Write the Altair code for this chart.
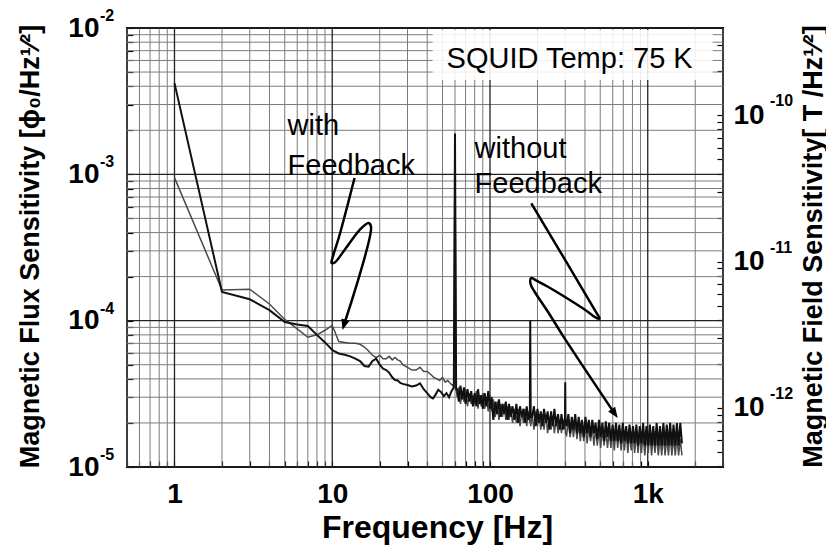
import altair as alt
import pandas as pd

F = "Liberation Sans"

# ---------------- data ----------------
# low-frequency part, "without Feedback" (black)
black_lf_f = [1,2,3,4,5,6,7,8,9,10,11,12,13,14,15,16,17,18,19,20,21,22,23,24,25,26,27,28,
              30,32,34,36,38,40,42,43.5,45,47,49,51,53,55,57,59,60,61]
black_lf_v = [4.2e-3,1.57e-4,1.40e-4,1.18e-4,9.8e-5,9.4e-5,9.2e-5,8.0e-5,7.1e-5,6.3e-5,
              5.97e-5,5.85e-5,5.7e-5,5.5e-5,5.3e-5,4.9e-5,4.85e-5,5.3e-5,5.5e-5,5.0e-5,
              4.7e-5,4.6e-5,4.4e-5,4.1e-5,3.93e-5,3.9e-5,3.75e-5,3.7e-5,
              3.63e-5,3.55e-5,3.6e-5,3.73e-5,3.4e-5,3.2e-5,3.0e-5,2.94e-5,3.1e-5,3.37e-5,
              3.25e-5,3.05e-5,3.2e-5,3.0e-5,3.3e-5,3.5e-5,1.9e-3,3.4e-5]
# low-frequency part, "with Feedback" (grey)
grey_lf_f = [1,2,3,4,5,6,7,8,9,10,11,12,13,14,15,16,17,18,19,20,21,22,23,24,25,26,27,28,
             30,32,34,36,38,40,42,44,46,48,50,52,54,56,58,59,60,61]
grey_lf_v = [9.5e-4,1.62e-4,1.64e-4,1.3e-4,1.02e-4,8.8e-5,7.7e-5,8.0e-5,8.6e-5,9.3e-5,
             7.2e-5,7.1e-5,7.0e-5,7.0e-5,6.9e-5,6.6e-5,6.2e-5,5.8e-5,5.6e-5,5.8e-5,
             5.5e-5,5.5e-5,5.7e-5,5.4e-5,5.6e-5,5.4e-5,5.3e-5,5.0e-5,
             4.8e-5,4.6e-5,4.6e-5,4.8e-5,4.5e-5,4.5e-5,4.3e-5,4.1e-5,4.0e-5,3.9e-5,
             4.1e-5,3.8e-5,3.9e-5,3.73e-5,3.6e-5,3.7e-5,1.5e-3,3.4e-5]

# high-frequency (dense, noisy) part: frequencies [Hz]
hf_f = [62,63.5,65,66.7,68.4,70,72,74,76,78,
        80,82,84,86,88,90,92.5,95,97.5,100,
        102.5,105,108,111,114,117,120,123,126,129,
        132,135,139,143,147,151,155,159,163,167,
        171,175,179,180,181,185,190,195,200,205,210,215,
        220,226,232,238,244,250,256,263,270,277,
        284,291,299,300,301,306,314,322,330,338,347,356,
        365,374,383,393,403,413,423,434,445,456,
        467,479,491,503,516,529,542,556,570,584,
        599,614,629,645,661,678,695,712,730,748,
        767,786,806,826,847,868,890,912,935,958,
        982,1007,1032,1058,1084,1111,1139,1167,1196,1226,
        1257,1288,1320,1353,1387,1422,1457,1494,1531,1569,
        1608,1648]
# values in units of 1e-5 Phi0/sqrt(Hz)
black_hf_v = [3.4,2.8,3.6,2.9,3.5,2.7,3.4,2.8,3.3,2.6,
              3.2,2.6,3.4,2.7,3.1,2.5,3.2,2.6,3.3,2.5,
              3.0,2.1,2.8,2.3,2.9,2.2,2.7,2.3,2.8,2.1,
              2.7,2.2,2.6,2.1,2.7,2.0,2.6,2.2,2.5,2.0,
              2.6,2.1,2.4,10.0,2.2,2.2,2.6,1.9,2.5,2.0,2.4,1.9,
              2.5,2.0,2.4,1.8,2.4,1.9,2.5,1.9,2.3,1.8,
              2.3,1.8,2.2,3.8,2.0,1.9,2.3,1.7,2.2,1.8,2.3,1.7,
              2.2,1.7,2.1,1.6,2.2,1.7,2.1,1.6,2.1,1.7,
              2.0,1.55,2.1,1.6,2.0,1.5,2.05,1.6,2.0,1.5,
              1.95,1.5,2.0,1.5,1.95,1.45,2.0,1.5,1.9,1.45,
              1.95,1.45,1.9,1.45,1.95,1.4,1.9,1.45,2.0,1.4,
              1.9,1.4,1.95,1.4,1.9,1.4,2.0,1.4,1.9,1.4,
              2.0,1.4,1.95,1.4,2.0,1.4,1.95,1.4,2.0,1.4,
              2.0,1.45]
grey_hf_v = [3.0,3.5,2.7,3.3,2.8,3.4,2.6,3.2,2.7,3.1,
             2.7,3.3,2.5,3.1,2.6,3.2,2.5,3.0,2.4,3.1,
             2.4,2.9,2.2,2.8,2.1,2.7,2.2,2.7,2.1,2.6,
             2.1,2.6,2.0,2.5,2.0,2.5,1.9,2.4,2.0,2.5,
             1.9,2.4,2.0,6.5,1.9,2.3,1.8,2.4,1.9,2.3,1.8,2.3,
             1.8,2.3,1.7,2.2,1.8,2.2,1.7,2.2,1.7,2.1,
             1.7,2.1,1.8,3.0,1.7,1.65,2.1,1.6,2.0,1.6,2.0,1.55,
             2.0,1.5,1.95,1.5,1.95,1.45,1.9,1.5,1.9,1.4,
             1.85,1.4,1.85,1.35,1.8,1.4,1.8,1.35,1.8,1.35,
             1.75,1.3,1.8,1.35,1.75,1.3,1.7,1.3,1.75,1.25,
             1.7,1.3,1.7,1.25,1.7,1.25,1.65,1.25,1.7,1.2,
             1.65,1.25,1.7,1.2,1.65,1.25,1.65,1.2,1.6,1.2,
             1.65,1.2,1.6,1.2,1.65,1.2,1.6,1.2,1.6,1.2,
             1.55,1.2]

# grid / tick positions
gx_major = [1, 10, 100, 1000]
gx_minor = [0.5,0.6,0.7,0.8,0.9, 2,3,4,5,6,7,8,9, 20,30,40,50,60,70,80,90,
            200,300,400,500,600,700,800,900, 2000,3000]
gy_major = [1e-5, 1e-4, 1e-3, 1e-2]
gy_minor = [2e-5,3e-5,4e-5,5e-5,6e-5,7e-5,8e-5,9e-5,
            2e-4,3e-4,4e-4,5e-4,6e-4,7e-4,8e-4,9e-4,
            2e-3,3e-3,4e-3,5e-3,6e-3,7e-3,8e-3,9e-3]
ry_ticks = [4e-13,5e-13,6e-13,7e-13,8e-13,9e-13,
            1e-12,2e-12,3e-12,4e-12,5e-12,6e-12,7e-12,8e-12,9e-12,
            1e-11,2e-11,3e-11,4e-11,5e-11,6e-11,7e-11,8e-11,9e-11,
            1e-10,2e-10,3e-10]
left_exp_v = [1e-2, 1e-3, 1e-4, 1e-5]
left_exp_t = ["-2", "-3", "-4", "-5"]
right_exp_v = [1e-10, 1e-11, 1e-12]
right_exp_t = ["-10", "-11", "-12"]

# annotations (data coordinates)
ann_text = ["with", "Feedback", "without", "Feedback", "SQUID Temp: 75 K"]
ann_f = [5.21, 5.21, 79.9, 79.9, 53.1]
ann_v = [1.86e-3, 9.9e-4, 1.29e-3, 7.45e-4, 5.33e-3]
box_f = [43.3, 2580]
box_v = [4.42e-3, 9.7e-3]

arrow1_f = [13.85, 11.13, 10.04, 9.90, 10.34, 11.97, 14.90, 16.99, 17.62, 11.90]
arrow1_v = [9.43e-4, 3.85e-4, 2.68e-4, 2.48e-4, 2.49e-4, 3.04e-4, 4.16e-4, 4.65e-4, 4.36e-4, 9.45e-5]
arrow2_f = [182.8, 474.3, 495.5, 474.3, 398, 297.2, 232.9, 194.6, 182.2, 180.9, 191.8, 232.9, 297.2, 614.1]
arrow2_v = [6.33e-4, 1.127e-4, 1.034e-4, 1.042e-4, 1.191e-4, 1.457e-4, 1.705e-4, 1.895e-4,
            1.955e-4, 1.778e-4, 1.576e-4, 1.150e-4, 7.57e-5, 2.335e-5]
head_f = [11.90, 614.1]
head_v = [9.45e-5, 2.335e-5]
head_angle = [195.5, 146.0]

# ---------------- tables ----------------
black = pd.DataFrame({"f": black_lf_f + hf_f,
                      "v": black_lf_v + [x * 1e-5 for x in black_hf_v]})
grey = pd.DataFrame({"f": grey_lf_f + hf_f,
                     "v": grey_lf_v + [x * 1e-5 for x in grey_hf_v]})
arrows = pd.concat([
    pd.DataFrame({"f": arrow1_f, "v": arrow1_v, "a": "a1", "i": list(range(len(arrow1_f)))}),
    pd.DataFrame({"f": arrow2_f, "v": arrow2_v, "a": "a2", "i": list(range(len(arrow2_f)))}),
])
heads = pd.DataFrame({"f": head_f, "v": head_v, "ang": head_angle})
ann = pd.DataFrame({"f": ann_f, "v": ann_v, "t": ann_text})
box = pd.DataFrame({"f": [box_f[0]], "f2": [box_f[1]], "v": [box_v[0]], "v2": [box_v[1]]})

XS = alt.Scale(type="log", domain=[0.5, 3000], nice=False)
YS = alt.Scale(type="log", domain=[1e-5, 1e-2], nice=False)
YR = alt.Scale(type="log", domain=[3.95e-13, 3.95e-10], nice=False)

dec_expr = "abs(log(datum.value)/LN10 - round(log(datum.value)/LN10)) < 0.001 ? '10' : ''"
x_expr = ("datum.value == 1 ? '1' : datum.value == 10 ? '10' : datum.value == 100 ? '100' : "
          "datum.value == 1000 ? '1k' : ''")

x_axis = alt.Axis(values=sorted(gx_minor + gx_major), labelExpr=x_expr, orient="bottom",
                  offset=-6, tickSize=6, tickColor="black", tickWidth=1.2, domain=False,
                  grid=False, labelOverlap=False, labelFlush=False, labelPadding=13,
                  labelFont=F, labelFontSize=28, labelFontWeight="bold", labelColor="black",
                  title="Frequency [Hz]", titleFont=F, titleFontSize=32, titleFontWeight="bold",
                  titleColor="black", titleX=310, titleY=76, titleAlign="center",
                  titleBaseline="alphabetic")
y_axis = alt.Axis(values=sorted(gy_minor + gy_major), labelExpr=dec_expr, orient="left",
                  offset=-6, tickSize=6, tickColor="black", tickWidth=1.2, domain=False,
                  grid=False, labelOverlap=False, labelFlush=False, labelPadding=28,
                  labelFont=F, labelFontSize=28, labelFontWeight="bold", labelColor="black",
                  labelBaseline="middle", labelAlign="right",
                  title="Magnetic Flux Sensitivity [ϕ₀/Hz¹⁄²]", titleFont=F, titleFontSize=27,
                  titleFontWeight="bold", titleColor="black", titleAngle=270,
                  titleX=-103, titleY=218, titleAlign="center", titleBaseline="middle")
r_axis = alt.Axis(values=ry_ticks, labelExpr=dec_expr, orient="right",
                  offset=-6, tickSize=6, tickColor="black", tickWidth=1.2, domain=False,
                  grid=False, labelOverlap=False, labelFlush=False, labelPadding=10,
                  labelFont=F, labelFontSize=28, labelFontWeight="bold", labelColor="black",
                  labelBaseline="middle", labelAlign="left",
                  title="Magnetic Field Sensitivity[ T /Hz¹⁄²]", titleFont=F, titleFontSize=27,
                  titleFontWeight="bold", titleColor="black", titleAngle=270,
                  titleX=96, titleY=218, titleAlign="center", titleBaseline="middle")


def X(field="f"):
    return alt.X(f"{field}:Q", scale=XS, axis=x_axis)


def Y(field="v"):
    return alt.Y(f"{field}:Q", scale=YS, axis=y_axis)


gxm = alt.Chart(pd.DataFrame({"f": gx_minor})).mark_rule(color="#7c7c7c", strokeWidth=1).encode(x=X())
gxM = alt.Chart(pd.DataFrame({"f": gx_major})).mark_rule(color="#222222", strokeWidth=1.3).encode(x=X())
gym = alt.Chart(pd.DataFrame({"v": gy_minor})).mark_rule(color="#7c7c7c", strokeWidth=1).encode(y=Y())
gyM = alt.Chart(pd.DataFrame({"v": gy_major})).mark_rule(color="#222222", strokeWidth=1.3).encode(y=Y())

box_l = alt.Chart(box).mark_rect(color="white", opacity=0.88).encode(
    x=X(), x2="f2:Q", y=Y(), y2="v2:Q")

ann_l = alt.Chart(ann).mark_text(align="left", baseline="alphabetic", font=F, fontSize=29,
                                 color="black").encode(x=X(), y=Y(), text="t:N")

grey_l = alt.Chart(grey).mark_line(color="#4a4a4a", strokeWidth=1.5).encode(x=X(), y=Y())
black_l = alt.Chart(black).mark_line(color="#111111", strokeWidth=2.0).encode(x=X(), y=Y())

arrow_l = alt.Chart(arrows).mark_line(color="black", strokeWidth=2.5, interpolate="catmull-rom").encode(
    x=X(), y=Y(), detail="a:N", order=alt.Order("i:Q"))
head_l = alt.Chart(heads).mark_point(shape="M0,-1L-0.7,0.8L0.7,0.8Z", filled=True, size=144,
                                     color="black", opacity=1).encode(
    x=X(), y=Y(), angle=alt.Angle("ang:Q", scale=None))

lexp = alt.Chart(pd.DataFrame({"v": left_exp_v, "t": left_exp_t})).mark_text(
    align="left", baseline="middle", font=F, fontSize=16, fontWeight="bold", color="black", dy=-12).encode(
    x=alt.value(-27), y=Y(), text="t:N")

rexp = alt.Chart(pd.DataFrame({"v": right_exp_v, "t": right_exp_t})).mark_text(
    align="left", baseline="middle", font=F, fontSize=16, fontWeight="bold", color="black", dy=-14).encode(
    x=alt.value(643), y=alt.Y("v:Q", scale=YR, axis=r_axis), text="t:N")

left_group = alt.layer(gxm, gym, gxM, gyM, box_l, ann_l, grey_l, black_l, arrow_l, head_l, lexp)
right_group = alt.layer(rexp)

chart = alt.layer(left_group, right_group).resolve_scale(y="independent").properties(
    width=596, height=439,
    padding={"left": 119, "top": 20, "right": 103, "bottom": 78},
    autosize=alt.AutoSizeParams(type="none"),
    background="white",
).configure_view(stroke="black", strokeWidth=2)

chart.save("out.html", embed_options={"renderer": "svg", "actions": False})
